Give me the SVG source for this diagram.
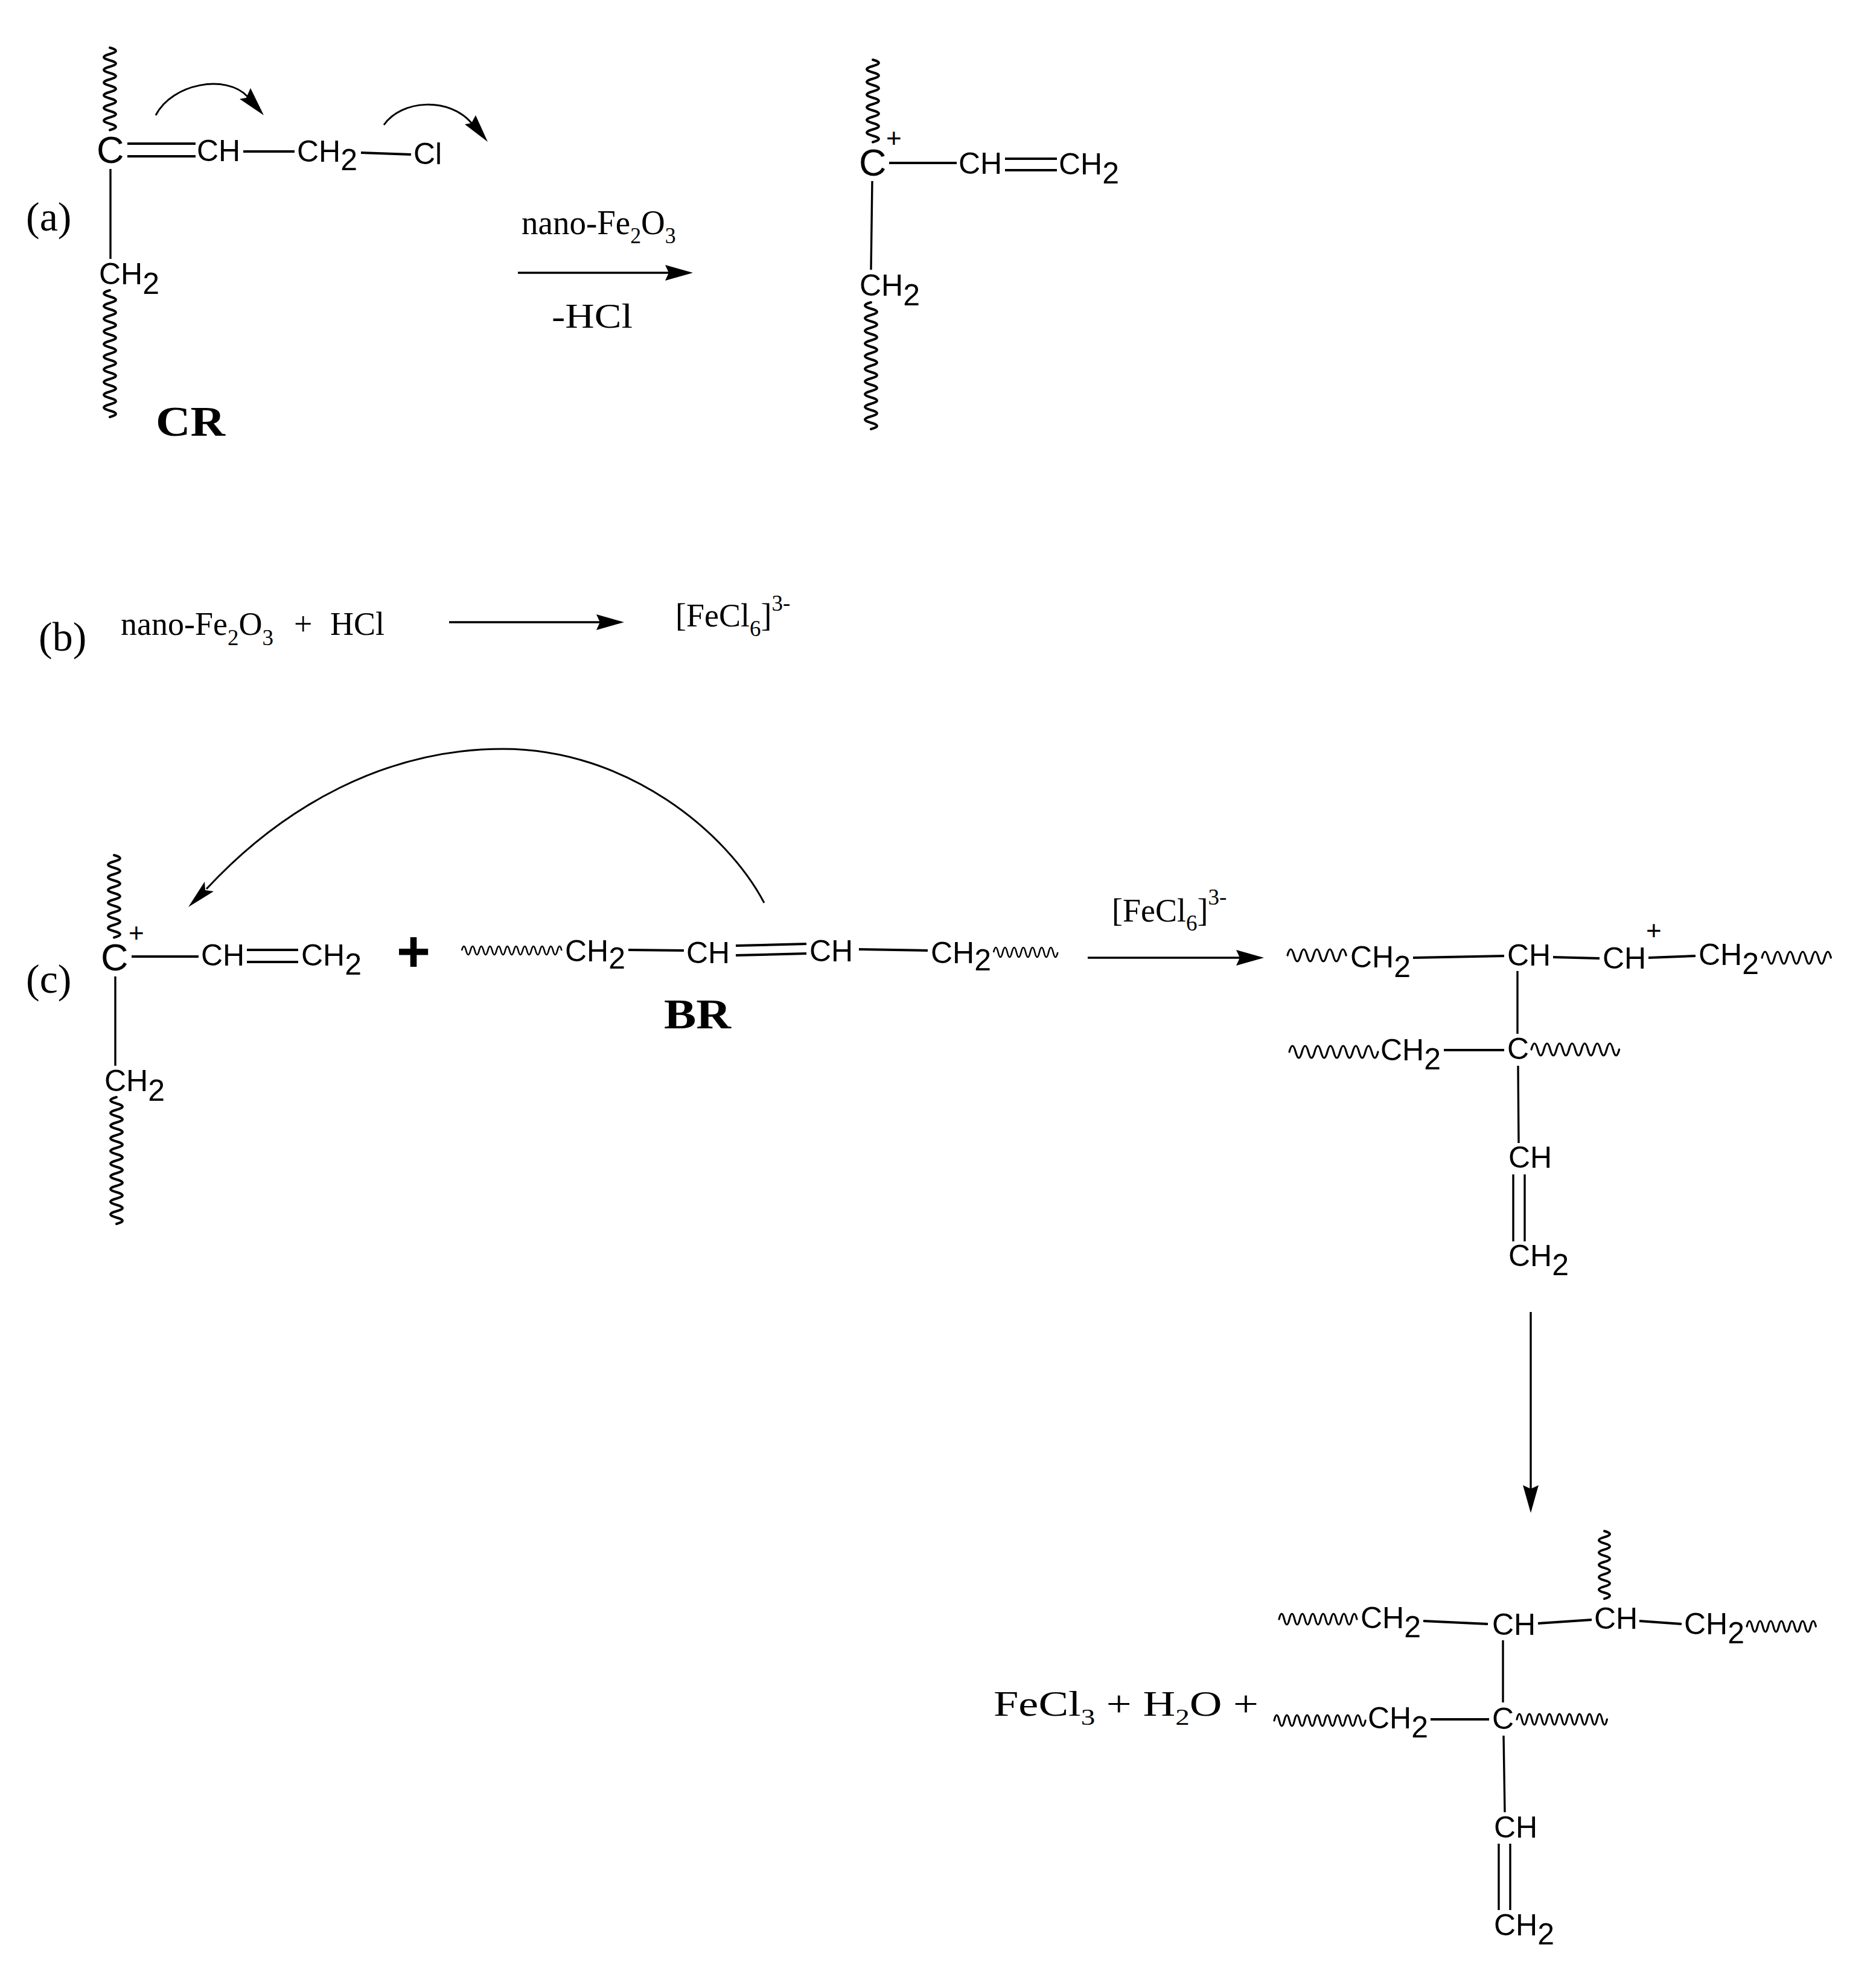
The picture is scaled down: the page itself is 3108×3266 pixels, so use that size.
<svg xmlns="http://www.w3.org/2000/svg" width="3108" height="3266" viewBox="0 0 3108 3266">
<style>
text{fill:#000}
.a{font-family:"Liberation Sans",Arial,sans-serif;font-size:50px}
.big{font-size:63px}
.p{font-size:44px}
.s{font-family:"Liberation Serif","Times New Roman",serif;font-size:54px}
.l{font-size:68px}
.n{font-size:57px}
.b{font-weight:bold;font-size:70px}
.u{font-size:37px}
.bond,.w,.tw,.arc{fill:none;stroke:#000}
.bond{stroke-width:4}
.th{stroke-width:3.4}
.w{stroke-width:4;stroke-linecap:round}
.h{stroke-width:3.2}
.tw{stroke-width:2.6}
.arc{stroke-width:3}
.rx{stroke:#000;stroke-width:3.4;fill:none}
</style>
<defs>
<marker id="ah" markerUnits="userSpaceOnUse" markerWidth="46" markerHeight="26" refX="40" refY="13" orient="auto"><path d="M0,0L46,13L0,26L6,13Z"/></marker>
</defs>
<rect width="3108" height="3266" fill="#fff"/>

<g id="connectors">
<!-- a -->
<path class="w" d="M182,79q20,5.25 0,10.5t0,10.5 0,10.5 0,10.5 0,10.5 0,10.5 0,10.5 0,10.5 0,10.5 0,10.5 0,10.5 0,10.5 0,10.5"/>
<path class="w" d="M182,481q-20,5.25 0,10.5t0,10.5 0,10.5 0,10.5 0,10.5 0,10.5 0,10.5 0,10.5 0,10.5 0,10.5 0,10.5 0,10.5 0,10.5 0,10.5 0,10.5 0,10.5 0,10.5 0,10.5 0,10.5 0,10.5"/>
<path class="bond" d="M211,238H324M211,259H324M403,251H488M598,253L681,256"/>
<path class="bond th" d="M183,280V429"/>
<path class="arc" d="M258,191C285,138 375,122 410,160"/>
<polygon points="437,191 397,164 408,162 415,146"/>
<path class="arc" d="M636,207C665,165 745,160 782,205"/>
<polygon points="808,235 770,206 781,204 788,191"/>
<path class="rx" marker-end="url(#ah)" d="M858,452H1142"/>
<path class="w" d="M1446,99q20,5.25 0,10.5t0,10.5 0,10.5 0,10.5 0,10.5 0,10.5 0,10.5 0,10.5 0,10.5 0,10.5 0,10.5 0,10.5 0,10.5"/>
<path class="w" d="M1443,501q-20,5.25 0,10.5t0,10.5 0,10.5 0,10.5 0,10.5 0,10.5 0,10.5 0,10.5 0,10.5 0,10.5 0,10.5 0,10.5 0,10.5 0,10.5 0,10.5 0,10.5 0,10.5 0,10.5 0,10.5 0,10.5"/>
<path class="bond" d="M1473,270H1585M1665,263H1751M1665,282H1751"/>
<path class="bond th" d="M1445,300L1443,447"/>
<!-- b -->
<path class="rx" marker-end="url(#ah)" d="M744,1031H1028"/>
<!-- c -->
<path class="w" d="M189,1417q20,5.25 0,10.5t0,10.5 0,10.5 0,10.5 0,10.5 0,10.5 0,10.5 0,10.5 0,10.5 0,10.5 0,10.5 0,10.5 0,10.5"/>
<path class="w" d="M193,1818q-20,5.25 0,10.5t0,10.5 0,10.5 0,10.5 0,10.5 0,10.5 0,10.5 0,10.5 0,10.5 0,10.5 0,10.5 0,10.5 0,10.5 0,10.5 0,10.5 0,10.5 0,10.5 0,10.5 0,10.5 0,10.5"/>
<path class="bond" d="M218,1585H329M409,1574H494M409,1594H494"/>
<path class="bond th" d="M191,1618V1766"/>
<path class="arc" d="M1266,1496C1205,1380 1040,1241 833,1241C640,1241 470,1335 342,1473"/>
<polygon points="312,1503 339,1461 340,1475 354,1477"/>
<path class="tw" d="M765,1575q3.6,-14 7.2,0t7.2,0 7.2,0 7.2,0 7.2,0 7.2,0 7.2,0 7.2,0 7.2,0 7.2,0 7.2,0 7.2,0 7.2,0 7.2,0 7.2,0 7.2,0 7.2,0 7.2,0 7.2,0 7.2,0 7.2,0 7.2,0 7.2,0"/>
<path class="bond" d="M1041,1574L1133,1575M1219,1567L1336,1564M1219,1583L1336,1580M1423,1573L1537,1575"/>
<path class="tw" d="M1646,1578q3.8,-16 7.6,0t7.6,0 7.6,0 7.6,0 7.6,0 7.6,0 7.6,0 7.6,0 7.6,0 7.6,0 7.6,0 7.6,0 7.6,0 7.6,0"/>
<path class="rx" marker-end="url(#ah)" d="M1802,1587H2088"/>
<path class="w h" d="M2133,1583q5.4,-20 10.8,0t10.8,0 10.8,0 10.8,0 10.8,0 10.8,0 10.8,0 10.8,0 10.8,0"/>
<path class="bond" d="M2341,1587L2492,1584M2573,1586L2650,1588M2731,1587L2809,1584"/>
<path class="w h" d="M2919,1587q5.2,-20 10.4,0t10.4,0 10.4,0 10.4,0 10.4,0 10.4,0 10.4,0 10.4,0 10.4,0 10.4,0 10.4,0"/>
<path class="bond th" d="M2514,1609V1713"/>
<path class="w h" d="M2136,1743q5.25,-20 10.5,0t10.5,0 10.5,0 10.5,0 10.5,0 10.5,0 10.5,0 10.5,0 10.5,0 10.5,0 10.5,0 10.5,0 10.5,0 10.5,0"/>
<path class="bond" d="M2392,1740H2492"/>
<path class="w h" d="M2537,1739q5.2,-20 10.4,0t10.4,0 10.4,0 10.4,0 10.4,0 10.4,0 10.4,0 10.4,0 10.4,0 10.4,0 10.4,0 10.4,0 10.4,0 10.4,0"/>
<path class="bond th" d="M2515,1766L2516,1894M2507,1946V2057M2526,1946V2057"/>
<path class="rx" marker-end="url(#ah)" d="M2536,2174V2501"/>
<!-- product -->
<path class="w" d="M2658,2537q18,5.1 0,10.2t0,10.2 0,10.2 0,10.2 0,10.2 0,10.2 0,10.2 0,10.2 0,10.2 0,10.2 0,10.2"/>
<path class="w h" d="M2119,2683q4.3,-18 8.6,0t8.6,0 8.6,0 8.6,0 8.6,0 8.6,0 8.6,0 8.6,0 8.6,0 8.6,0 8.6,0 8.6,0 8.6,0 8.6,0 8.6,0"/>
<path class="bond" d="M2358,2686L2465,2691M2548,2690L2637,2684M2716,2686L2786,2691"/>
<path class="w h" d="M2894,2695q4.4,-18 8.8,0t8.8,0 8.8,0 8.8,0 8.8,0 8.8,0 8.8,0 8.8,0 8.8,0 8.8,0 8.8,0 8.8,0 8.8,0"/>
<path class="bond th" d="M2490,2718V2821"/>
<path class="w h" d="M2111,2851q4.2,-18 8.4,0t8.4,0 8.4,0 8.4,0 8.4,0 8.4,0 8.4,0 8.4,0 8.4,0 8.4,0 8.4,0 8.4,0 8.4,0 8.4,0 8.4,0 8.4,0 8.4,0 8.4,0"/>
<path class="bond" d="M2370,2849H2467"/>
<path class="w h" d="M2513,2849q4.15,-18 8.3,0t8.3,0 8.3,0 8.3,0 8.3,0 8.3,0 8.3,0 8.3,0 8.3,0 8.3,0 8.3,0 8.3,0 8.3,0 8.3,0 8.3,0 8.3,0 8.3,0 8.3,0"/>
<path class="bond th" d="M2491,2876L2493,3003M2483,3055V3165M2502,3055V3165"/>
</g>

<g id="label-a"><text class="s l" x="43" y="382">(a)</text></g>
<g id="a-C"><text class="a big" x="160" y="270">C</text></g>
<g id="a-CH"><text class="a" x="326" y="267">CH</text></g>
<g id="a-CH2"><text class="a" x="492" y="268">CH<tspan dy="14">2</tspan></text></g>
<g id="a-Cl"><text class="a" x="685" y="272">Cl</text></g>
<g id="a-CH2b"><text class="a" x="164" y="471">CH<tspan dy="16">2</tspan></text></g>
<g id="label-CR"><text class="s b" x="258" y="722" textLength="115" lengthAdjust="spacingAndGlyphs">CR</text></g>
<g id="a-reagent"><text class="s n" transform="translate(864 388) scale(.965 1)">nano-Fe<tspan class="u" dy="15">2</tspan><tspan dy="-15">O</tspan><tspan class="u" dy="15">3</tspan></text></g>
<g id="a-loss"><text class="s" style="font-size:58px" x="914" y="543" textLength="134" lengthAdjust="spacingAndGlyphs">-HCl</text></g>

<g id="a2-plus"><text class="a p" x="1468" y="244">+</text></g>
<g id="a2-C"><text class="a big" x="1423" y="291">C</text></g>
<g id="a2-CH"><text class="a" x="1588" y="288">CH</text></g>
<g id="a2-CH2"><text class="a" x="1754" y="289">CH<tspan dy="15">2</tspan></text></g>
<g id="a2-CH2b"><text class="a" x="1424" y="490">CH<tspan dy="16">2</tspan></text></g>

<g id="label-b"><text class="s l" x="64" y="1078">(b)</text></g>
<g id="b-reactants"><text class="s" x="200" y="1052">nano-Fe<tspan class="u" dy="17">2</tspan><tspan dy="-17">O</tspan><tspan class="u" dy="17">3</tspan><tspan dy="-17" x="487">+</tspan><tspan x="547">HCl</tspan></text></g>
<g id="b-product"><text class="s" x="1119" y="1038">[FeCl<tspan class="u" dy="16">6</tspan><tspan dy="-16">]</tspan><tspan class="u" dy="-26">3-</tspan></text></g>

<g id="label-c"><text class="s l" x="43" y="1645">(c)</text></g>
<g id="c-plus1"><text class="a p" x="213" y="1561">+</text></g>
<g id="c-C"><text class="a big" x="167" y="1608">C</text></g>
<g id="c-CH"><text class="a" x="333" y="1600">CH</text></g>
<g id="c-CH2"><text class="a" x="499" y="1600">CH<tspan dy="15">2</tspan></text></g>
<g id="c-CH2b"><text class="a" x="173" y="1808">CH<tspan dy="16">2</tspan></text></g>
<g id="c-plus"><text class="a" style="font-size:96px;font-weight:bold" x="657" y="1610">+</text></g>
<g id="br-CH2a"><text class="a" x="936" y="1593">CH<tspan dy="12">2</tspan></text></g>
<g id="br-CHa"><text class="a" x="1137" y="1596">CH</text></g>
<g id="br-CHb"><text class="a" x="1341" y="1593">CH</text></g>
<g id="br-CH2b"><text class="a" x="1542" y="1596">CH<tspan dy="12">2</tspan></text></g>
<g id="label-BR"><text class="s b" x="1100" y="1704" textLength="111" lengthAdjust="spacingAndGlyphs">BR</text></g>
<g id="c-catalyst"><text class="s" x="1842" y="1527">[FeCl<tspan class="u" dy="15">6</tspan><tspan dy="-15">]</tspan><tspan class="u" dy="-28">3-</tspan></text></g>

<g id="i-CH2a"><text class="a" x="2237" y="1603">CH<tspan dy="16">2</tspan></text></g>
<g id="i-CHa"><text class="a" x="2497" y="1600">CH</text></g>
<g id="i-CHb"><text class="a" x="2655" y="1605">CH</text></g>
<g id="i-plus"><text class="a p" x="2727" y="1557">+</text></g>
<g id="i-CH2b"><text class="a" x="2814" y="1599">CH<tspan dy="15">2</tspan></text></g>
<g id="i-CH2c"><text class="a" x="2287" y="1757">CH<tspan dy="15">2</tspan></text></g>
<g id="i-C"><text class="a" x="2497" y="1755">C</text></g>
<g id="i-CHc"><text class="a" x="2499" y="1935">CH</text></g>
<g id="i-CH2d"><text class="a" x="2499" y="2098">CH<tspan dy="15">2</tspan></text></g>

<g id="p-CH2a"><text class="a" x="2254" y="2698">CH<tspan dy="15">2</tspan></text></g>
<g id="p-CHa"><text class="a" x="2472" y="2709">CH</text></g>
<g id="p-CHb"><text class="a" x="2641" y="2699">CH</text></g>
<g id="p-CH2b"><text class="a" x="2790" y="2708">CH<tspan dy="15">2</tspan></text></g>
<g id="p-byproducts"><text class="s" style="font-size:60px" transform="translate(1646 2843) scale(1.24 1)">FeCl<tspan style="font-size:38px" dy="15">3</tspan><tspan dy="-15"> + H</tspan><tspan style="font-size:38px" dy="15">2</tspan><tspan dy="-15">O +</tspan></text></g>
<g id="p-CH2c"><text class="a" x="2266" y="2864">CH<tspan dy="15">2</tspan></text></g>
<g id="p-C"><text class="a" x="2472" y="2865">C</text></g>
<g id="p-CHc"><text class="a" x="2475" y="3045">CH</text></g>
<g id="p-CH2d"><text class="a" x="2475" y="3207">CH<tspan dy="15">2</tspan></text></g>
</svg>
